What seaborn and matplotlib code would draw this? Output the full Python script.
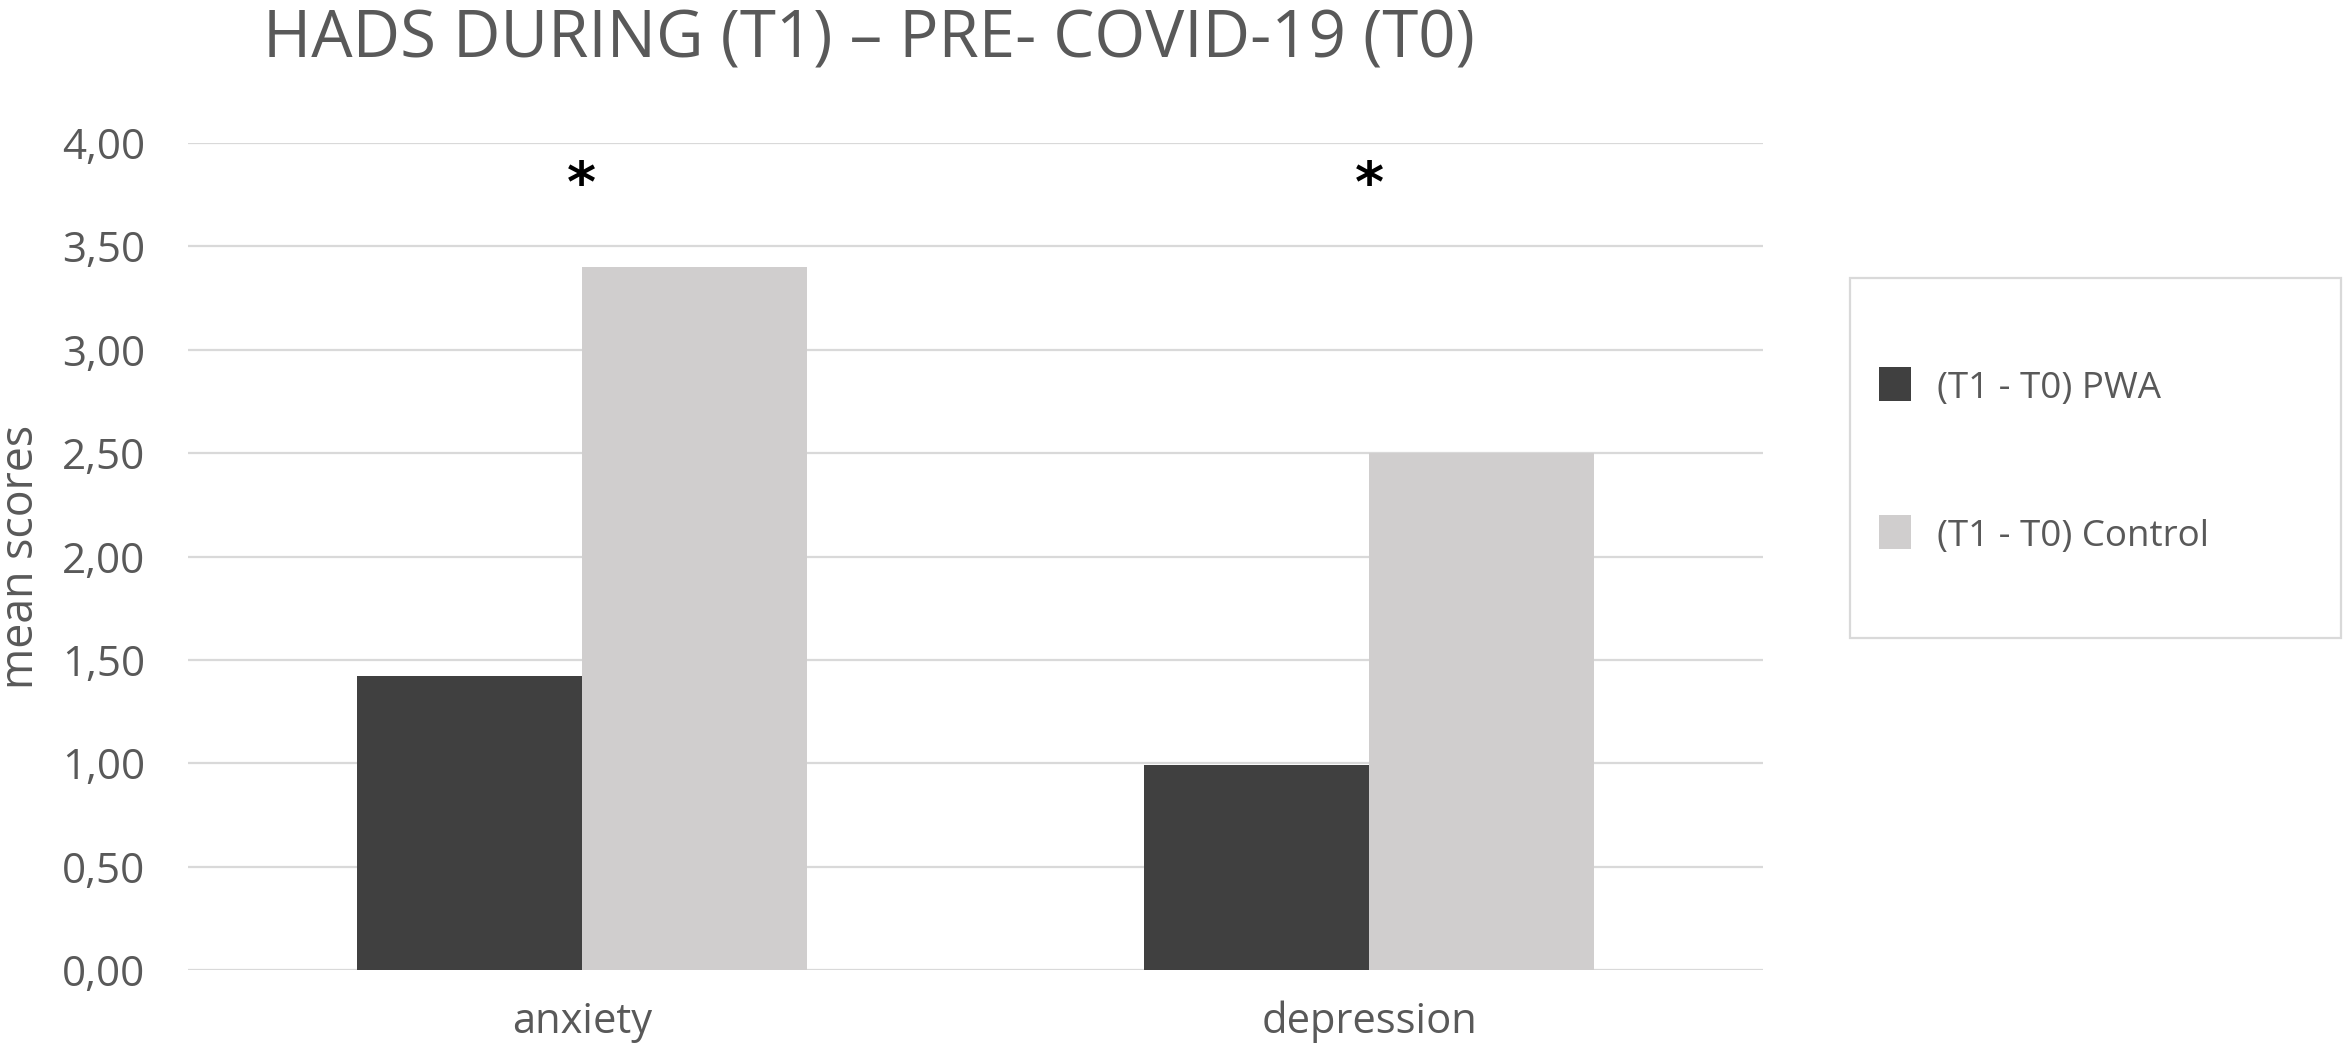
import matplotlib
matplotlib.use("Agg")
import matplotlib.pyplot as plt
import seaborn as sns
import pandas as pd
from matplotlib.patches import Rectangle

# ---------------- data ----------------
categories = ["anxiety", "depression"]
series = ["(T1 - T0) PWA", "(T1 - T0) Control"]
pwa_values = [1.42, 0.99]
control_values = [3.40, 2.50]
significance = ["*", "*"]
star_level = 3.84
y_ticks = [0.0, 0.5, 1.0, 1.5, 2.0, 2.5, 3.0, 3.5, 4.0]
y_tick_labels = ["0,00", "0,50", "1,00", "1,50", "2,00", "2,50", "3,00", "3,50", "4,00"]
title_text = "HADS DURING (T1) \u2013 PRE- COVID-19 (T0)"
ylabel_text = "mean scores"
bar_colors = ["#404040", "#D0CECE"]
text_color = "#595959"
grid_color = "#D9D9D9"

# ---------------- style ----------------
sns.set_theme(style="white")
plt.rcParams['font.family'] = ['Open Sans', 'DejaVu Sans']

W, H = 2344, 1061
fig = plt.figure(figsize=(W / 100, H / 100), dpi=100)
ax = fig.add_axes([188 / W, 1 - 970 / H, (1763 - 188) / W, (970 - 143) / H])

df = pd.DataFrame({
    "category": categories * 2,
    "group": [series[0]] * len(categories) + [series[1]] * len(categories),
    "value": pwa_values + control_values,
})

sns.barplot(data=df, x="category", y="value", hue="group", order=categories,
            hue_order=series, palette=bar_colors, width=0.5714, gap=0,
            saturation=1, errorbar=None, linewidth=0, ax=ax)

ax.set_xlim(-0.5, len(categories) - 0.5)
ax.set_ylim(0, 4)
ax.set_yticks(y_ticks)
ax.set_yticklabels(y_tick_labels)
ax.yaxis.grid(True, color=grid_color, linewidth=1.6)
ax.xaxis.grid(False)
ax.set_axisbelow(True)
for s in ax.spines.values():
    s.set_visible(False)
ax.tick_params(axis="both", length=0, colors=text_color)
ax.tick_params(axis="y", pad=31)
ax.tick_params(axis="x", pad=22)
ax.set_xlabel("")
ax.set_ylabel(ylabel_text, color=text_color, fontsize=30)
ax.yaxis.set_label_coords((44 - 188) / 1575, 0.5)

# significance stars
for i, s in enumerate(significance):
    ax.annotate(s, xy=(i, star_level), xytext=(0, -7), textcoords="offset points",
                ha="center", va="center", color="black",
                fontsize=40, fontweight="bold", family="DejaVu Sans")

# title
title = fig.text(869 / W, 1 - 57 / H, title_text, ha="center", va="baseline",
                 color=text_color)

# legend
handles, labels = ax.get_legend_handles_labels()
ax.get_legend().remove()
leg_fs = 28
fs_px = leg_fs * 100 / 72
leg = fig.legend(handles, labels, loc="center left",
                 bbox_to_anchor=(1879 / W, 1 - 461 / H), frameon=False,
                 borderpad=0, borderaxespad=0, fontsize=leg_fs,
                 handlelength=32 / fs_px, handleheight=37 / fs_px,
                 handletextpad=26 / fs_px, labelspacing=2.8)
for t in leg.get_texts():
    t.set_color(text_color)

fig.patches.append(Rectangle((1850 / W, 1 - 638 / H), (2341 - 1850) / W, 360 / H,
                             transform=fig.transFigure, fill=False,
                             edgecolor=grid_color, linewidth=1.6))

# ---------- fit font sizes to measured extents ----------
def extent(t, vertical=False):
    r = fig.canvas.get_renderer()
    bb = t.get_window_extent(r)
    return bb.height if vertical else bb.width

def fit(t, target, vertical=False):
    fig.canvas.draw()
    for _ in range(2):
        w = extent(t, vertical)
        t.set_fontsize(t.get_fontsize() * target / w)
        fig.canvas.draw()

title.set_fontsize(40)
fit(title, 1212)
fit(ax.yaxis.label, 264, vertical=True)

# tick labels
ax.tick_params(axis="both", labelsize=28)
fig.canvas.draw()
for _ in range(2):
    yl = [t for t in ax.get_yticklabels() if t.get_text() == "4,00"][0]
    s = ax.get_yticklabels()[0].get_fontsize() * 83 / extent(yl)
    ax.tick_params(axis="y", labelsize=s)
    xl = [t for t in ax.get_xticklabels() if t.get_text() == "anxiety"][0]
    s2 = ax.get_xticklabels()[0].get_fontsize() * 140 / extent(xl)
    ax.tick_params(axis="x", labelsize=s2)
    fig.canvas.draw()

# legend text
for _ in range(2):
    lt = leg.get_texts()[1]
    s = lt.get_fontsize() * 272 / extent(lt)
    for t in leg.get_texts():
        t.set_fontsize(s)
    fig.canvas.draw()

fig.savefig("out.png", dpi=100, facecolor="white")
